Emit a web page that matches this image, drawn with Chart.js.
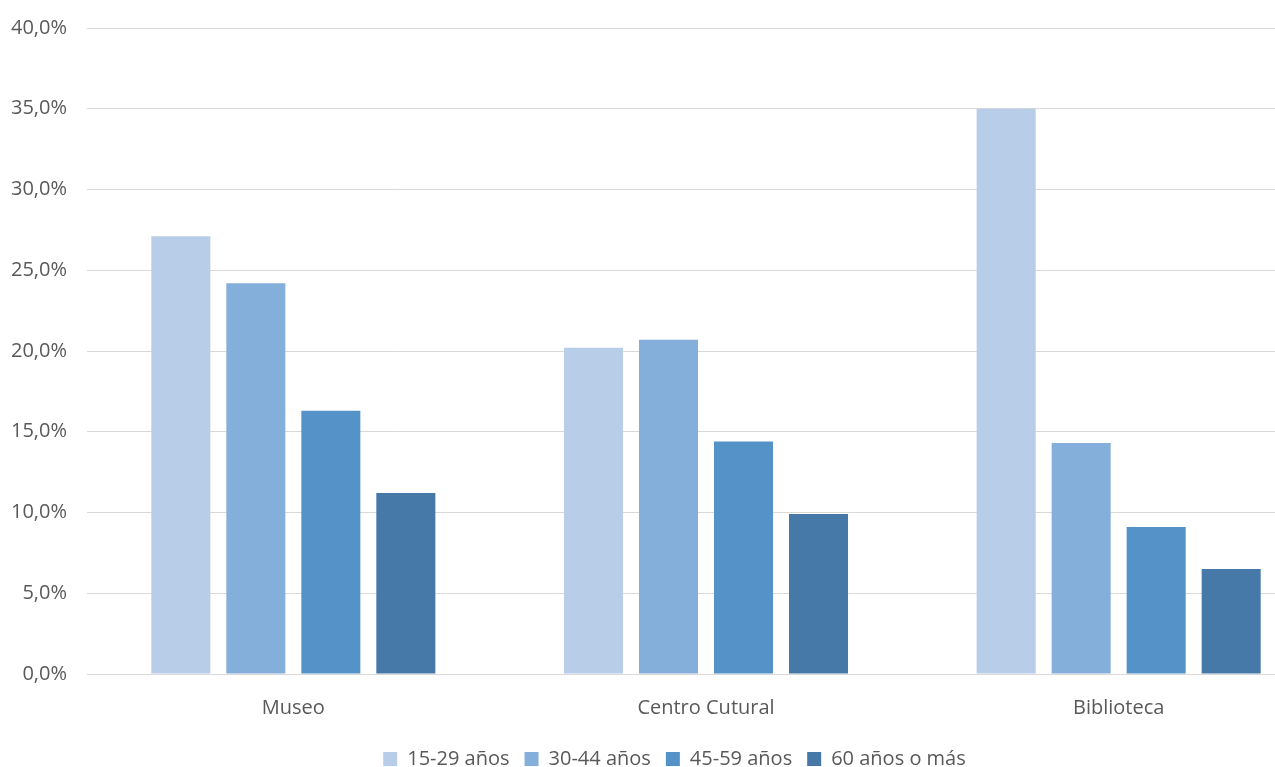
<!DOCTYPE html>
<html><head><meta charset="utf-8">
<script src="https://cdn.jsdelivr.net/npm/chart.js@4/dist/chart.umd.min.js"></script>
<style>html,body{margin:0;padding:0;overflow:hidden;background:#fff;width:1275px;height:767px}canvas{display:block}</style>
</head><body>
<canvas id="c" width="1348" height="767"></canvas>
<script>
const categories = ["Museo", "Centro Cutural", "Biblioteca"];
const seriesNames = ["15-29 años", "30-44 años", "45-59 años", "60 años o más"];
const s1529 = [27.1, 20.2, 35.0];
const s3044 = [24.2, 20.7, 14.3];
const s4559 = [16.3, 14.4, 9.1];
const s60 = [11.2, 9.9, 6.5];
const colors = ["#B8CDE7", "#85AFDB", "#5592C8", "#4678A8"];
const values = [s1529, s3044, s4559, s60];
const FONT = "'Liberation Sans Narrow', 'Open Sans', sans-serif";
const legendShift = {
  id: 'legendShift',
  afterLayout(chart) { const l = chart.legend; if (l) { l.left += 12; l.right += 12; } }
};
new Chart(document.getElementById('c'), {
  type: 'bar',
  data: {
    labels: categories,
    datasets: seriesNames.map((n, i) => ({
      label: n, data: values[i], backgroundColor: colors[i],
      borderWidth: 0, categoryPercentage: 0.727, barPercentage: 0.787
    }))
  },
  plugins: [legendShift],
  options: {
    responsive: false, animation: false,
    layout: { padding: { top: 28, right: 23, left: 0, bottom: -12 } },
    plugins: {
      legend: { position: 'bottom',
        labels: { font: { family: FONT, size: 20 }, color: '#595959', boxWidth: 14, boxHeight: 14, padding: 15 } },
      tooltip: { enabled: false }
    },
    scales: {
      x: { grid: { display: false }, border: { color: '#D9D9D9' },
        ticks: { font: { family: FONT, size: 20 }, color: '#595959', padding: 14 } },
      y: { min: 0, max: 40, afterFit: s => { s.width = 87; },
        grid: { color: '#D9D9D9', drawTicks: false }, border: { display: false },
        ticks: { stepSize: 5, padding: 20, font: { family: FONT, size: 20, lineHeight: 0.5 }, color: '#595959',
          callback: v => v.toFixed(1).replace('.', ',') + '%' } }
    }
  }
});
</script>
</body></html>
